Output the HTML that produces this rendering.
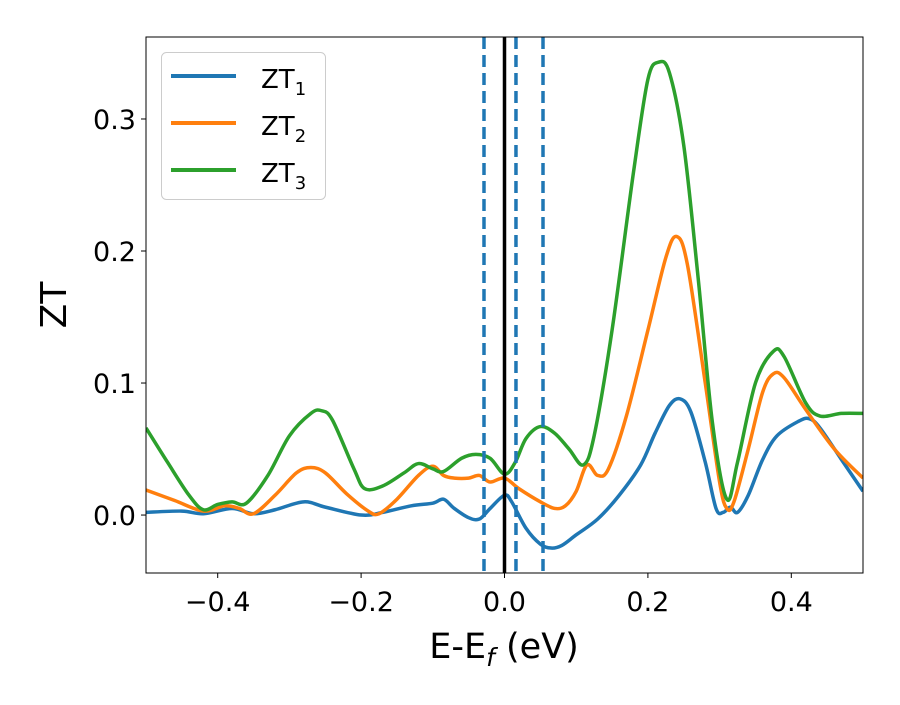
<!DOCTYPE html>
<html><head><meta charset="utf-8"><style>
body{margin:0;background:#fff}
svg text{font-family:"DejaVu Sans","Liberation Sans",sans-serif;fill:#000}
</style></head><body>
<svg id="chart" width="900" height="700" viewBox="0 0 900 700">
<defs><clipPath id="clip"><rect x="146" y="37" width="717" height="536"/></clipPath></defs>
<g id="plot" clip-path="url(#clip)"></g>
<rect x="146" y="37" width="717" height="536" fill="none" stroke="#000" stroke-width="1"/>
<g id="xticks"></g>
<g id="yticks"></g>
<text x="504" y="658" font-size="35" text-anchor="middle">E-E<tspan font-style="italic" font-size="25" dy="8">f</tspan><tspan dy="-8"> (eV)</tspan></text>
<text transform="translate(66,305) rotate(-90)" font-size="36" text-anchor="middle">ZT</text>
<g>
<rect x="161.5" y="52.5" width="164" height="147" rx="5" fill="#fff" fill-opacity="0.8" stroke="#ccc"/>
<g><line x1="171" y1="76" x2="236" y2="76" stroke="#1f77b4" stroke-width="4"/><text x="261" y="88" font-size="26">ZT<tspan font-size="18" dy="7">1</tspan></text></g>
<g><line x1="171" y1="123" x2="236" y2="123" stroke="#ff7f0e" stroke-width="4"/><text x="261" y="135" font-size="26">ZT<tspan font-size="18" dy="7">2</tspan></text></g>
<g><line x1="171" y1="170" x2="236" y2="170" stroke="#2ca02c" stroke-width="4"/><text x="261" y="182" font-size="26">ZT<tspan font-size="18" dy="7">3</tspan></text></g>
</g>
</svg>
<script>
const xTicks=[-0.4,-0.2,0.0,0.2,0.4];
const xTickLabels=["\u22120.4","\u22120.2","0.0","0.2","0.4"];
const yTicks=[0.0,0.1,0.2,0.3];
const yTickLabels=["0.0","0.1","0.2","0.3"];
const dashedLines=[-0.0286,0.016,0.0537];
const solidLine=[0.0];
const e1=[-0.5,-0.45,-0.42,-0.38,-0.35,-0.32,-0.28,-0.25,-0.2,-0.17,-0.13,-0.1,-0.085,-0.07,-0.05,-0.035,-0.02,0.0,0.01,0.03,0.05,0.065,0.08,0.1,0.13,0.16,0.19,0.21,0.23,0.245,0.26,0.28,0.295,0.305,0.315,0.325,0.34,0.36,0.38,0.41,0.425,0.44,0.47,0.5];
const zt1=[0.002,0.003,0.001,0.005,0.001,0.004,0.010,0.006,0.0,0.002,0.007,0.009,0.012,0.005,-0.002,-0.003,0.005,0.015,0.01,-0.01,-0.022,-0.025,-0.023,-0.015,-0.003,0.015,0.038,0.062,0.083,0.088,0.078,0.04,0.005,0.002,0.006,0.002,0.015,0.042,0.06,0.071,0.073,0.066,0.042,0.018];
const e2=[-0.5,-0.46,-0.42,-0.39,-0.37,-0.35,-0.32,-0.29,-0.27,-0.25,-0.22,-0.19,-0.175,-0.15,-0.12,-0.1,-0.085,-0.07,-0.05,-0.035,-0.02,0.0,0.02,0.05,0.07,0.085,0.1,0.115,0.13,0.145,0.17,0.2,0.225,0.24,0.255,0.28,0.3,0.31,0.32,0.34,0.36,0.375,0.39,0.42,0.46,0.5];
const zt2=[0.019,0.011,0.003,0.007,0.005,0.001,0.015,0.032,0.036,0.032,0.016,0.003,0.001,0.012,0.03,0.037,0.03,0.028,0.028,0.03,0.025,0.028,0.02,0.01,0.005,0.007,0.018,0.038,0.03,0.035,0.075,0.14,0.195,0.211,0.19,0.1,0.025,0.005,0.01,0.05,0.093,0.107,0.104,0.08,0.05,0.028];
const e3=[-0.5,-0.47,-0.44,-0.42,-0.4,-0.38,-0.36,-0.33,-0.3,-0.27,-0.255,-0.24,-0.21,-0.195,-0.17,-0.14,-0.12,-0.1,-0.085,-0.06,-0.04,-0.02,0.0,0.015,0.03,0.05,0.07,0.09,0.11,0.125,0.15,0.18,0.2,0.215,0.23,0.25,0.27,0.29,0.31,0.325,0.35,0.375,0.39,0.42,0.44,0.47,0.5];
const zt3=[0.066,0.04,0.015,0.004,0.008,0.01,0.009,0.03,0.06,0.077,0.079,0.072,0.035,0.02,0.022,0.032,0.039,0.035,0.033,0.043,0.046,0.043,0.031,0.04,0.058,0.067,0.062,0.05,0.038,0.06,0.14,0.26,0.33,0.343,0.335,0.28,0.18,0.07,0.012,0.04,0.1,0.124,0.12,0.085,0.075,0.077,0.077];

const NS="http://www.w3.org/2000/svg";
const X0=146,X1=863,Y0=37,Y1=573;
const xmin=-0.5,xmax=0.5,ymin=-0.0439,ymax=0.3621;
function sx(v){return X0+(v-xmin)/(xmax-xmin)*(X1-X0);}
function sy(v){return Y1-(v-ymin)/(ymax-ymin)*(Y1-Y0);}
const plot=document.getElementById('plot');
function mk(tag,attrs,parent){const el=document.createElementNS(NS,tag);for(const k in attrs)el.setAttribute(k,attrs[k]);parent.appendChild(el);return el;}
function smooth(xs,ys){const p=xs.map((x,i)=>[sx(x),sy(ys[i])]);let d="M"+p[0][0]+","+p[0][1];
for(let i=0;i<p.length-1;i++){const a=p[Math.max(0,i-1)],b=p[i],c=p[i+1],e=p[Math.min(p.length-1,i+2)];
const c1=[b[0]+(c[0]-a[0])/6,b[1]+(c[1]-a[1])/6],c2=[c[0]-(e[0]-b[0])/6,c[1]-(e[1]-b[1])/6];
d+=" C"+c1[0]+","+c1[1]+" "+c2[0]+","+c2[1]+" "+c[0]+","+c[1];}return d;}
const series=[[e1,zt1,"#1f77b4","series-zt1"],[e2,zt2,"#ff7f0e","series-zt2"],[e3,zt3,"#2ca02c","series-zt3"]];
series.forEach(s=>{const el=mk('path',{d:smooth(s[0],s[1]),fill:"none",stroke:s[2],"stroke-width":3.5,"stroke-linejoin":"round"},plot);

});
dashedLines.forEach(v=>{const el=mk('line',{x1:sx(v),x2:sx(v),y1:Y0,y2:Y1,stroke:"#1f77b4","stroke-width":3.5,"stroke-dasharray":"12,6"},plot);

});
solidLine.forEach(v=>{const el=mk('line',{x1:sx(v),x2:sx(v),y1:Y0,y2:Y1,stroke:"#000","stroke-width":3.5},plot);

});
const xg=document.getElementById('xticks'),yg=document.getElementById('yticks');
xTicks.forEach((v,i)=>{const t=mk('line',{x1:sx(v),x2:sx(v),y1:Y1,y2:Y1+5,stroke:"#000"},xg);


const l=mk('text',{x:sx(v),y:Y1+38,"font-size":27,"text-anchor":"middle"},xg);l.textContent=xTickLabels[i];

});
yTicks.forEach((v,i)=>{const t=mk('line',{x1:X0-5,x2:X0,y1:sy(v),y2:sy(v),stroke:"#000"},yg);


const l=mk('text',{x:X0-10,y:sy(v)+10,"font-size":27,"text-anchor":"end"},yg);l.textContent=yTickLabels[i];

});
</script>
</body></html>
